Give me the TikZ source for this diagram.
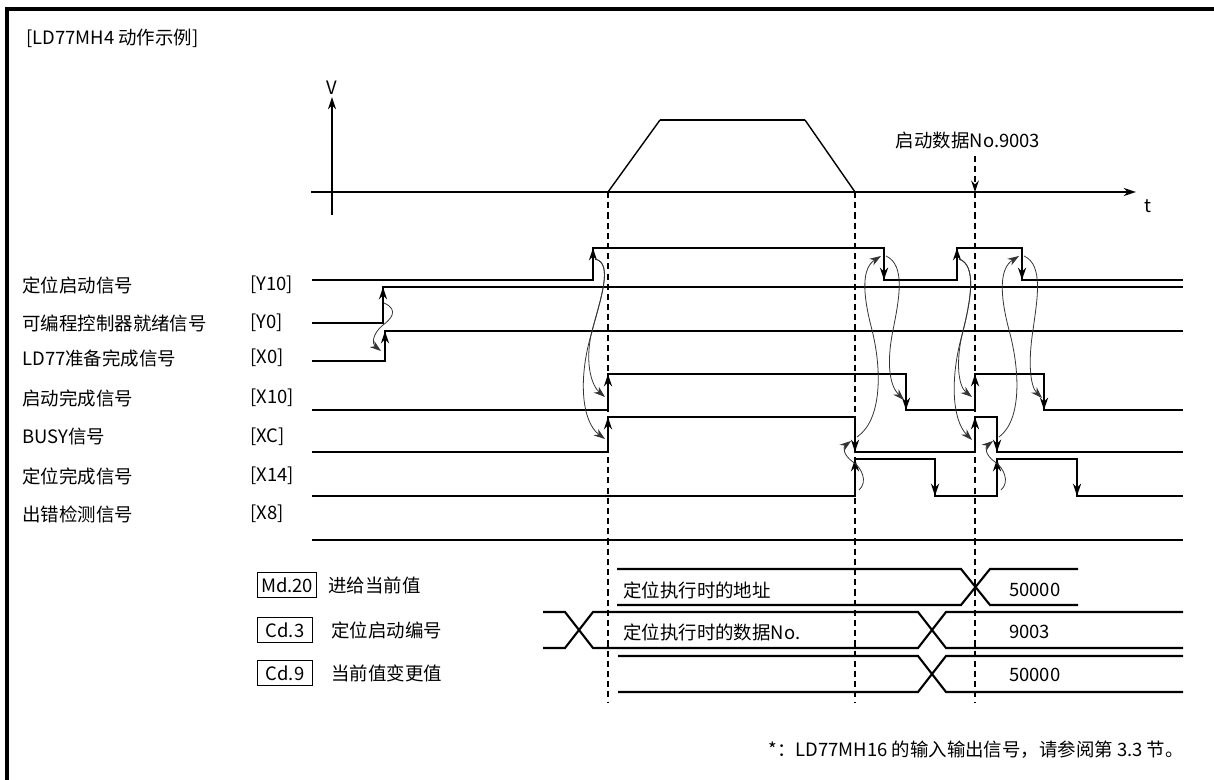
\documentclass[tikz,border=0pt]{standalone}
\usepackage{fontspec}
\setmainfont{Noto Sans CJK SC}
\usepackage{tikz}
\usetikzlibrary{arrows.meta, positioning}

\begin{document}
\begin{tikzpicture}[
    x=0.02cm, y=-0.02cm,
    >=Stealth,
    % Kiểu chữ và các nhãn
    lbl_font/.style={font=\fontsize{10.5}{12}\selectfont},
    sig_name/.style={lbl_font, anchor=west, inner sep=0pt},
    item_box/.style={draw, line width=0.6pt, lbl_font, inner sep=2pt, minimum width=1.1cm, minimum height=0.5cm, anchor=west},
    % Các kiểu đường
    axis_line/.style={line width=0.8pt},
    wave/.style={line width=1.4pt, line join=miter},
    flank/.style={line width=1.4pt, -{Stealth[length=7pt,width=4.6pt]}},
    cause/.style={line width=0.45pt, draw=black!80, -{Stealth[length=6.5pt,width=4.4pt]}},
    guide/.style={line width=0.6pt, dash pattern=on 3.5pt off 2.3pt},
    data_line/.style={line width=1.2pt}
]
    \useasboundingbox (0,0) rectangle (1214,780);

    % --- 1. KHUNG VÀ TIÊU ĐỀ ---
    \draw[line width=2.3pt] (7,780) -- (7,9) -- (1214,9);
    \node[lbl_font, anchor=west] (title) at (20,38) {[LD77MH4 动作示例]};

    % --- 2. TRỤC V - t VÀ HÌNH THANG TỐC ĐỘ ---
    \coordinate (v_bot) at (332,215);
    \coordinate (v_top) at (332,97);
    \coordinate (t_left) at (311,192);
    \coordinate (t_right) at (1136,192);
    \draw[axis_line, -{Stealth[length=7pt,width=4.6pt]}] (v_bot) -- (v_top);
    \draw[axis_line, -{Stealth[length=7pt,width=4.6pt]}] (t_left) -- (t_right);
    \node[lbl_font, anchor=south, inner sep=1pt] (v_lbl) at (v_top) {V};
    \node[lbl_font] (t_lbl) at (1148,206) {t};

    \draw[axis_line] (608,192) -- (660,120);
    \draw[line width=1.5pt] (660,120) -- (805,120);
    \draw[axis_line] (805,120) -- (855,192);

    % Đường gióng đứng
    \coordinate (g1) at (608,192);
    \coordinate (g2) at (855,192);
    \coordinate (g3) at (975,192);
    \foreach \g in {g1,g2,g3} {
        \draw[guide] (\g) -- (\g |- 0,703);
    }
    \node[lbl_font] (start_lbl) at (968,141) {启动数据No.9003};
    \draw[guide, -{Stealth[length=6.5pt,width=4.4pt]}] (start_lbl.south -| g3) -- (g3);

    % --- 3. TÊN TÍN HIỆU ---
    \foreach \key/\name/\code/\ly in {y10/定位启动信号/Y10/285, y0/可编程控制器就绪信号/Y0/323,
        x0/LD77准备完成信号/X0/358, x10/启动完成信号/X10/398, xc/BUSY信号/XC/437,
        x14/定位完成信号/X14/476, x8/出错检测信号/X8/514} {
        \node[sig_name] (name_\key) at (22,\ly) {\name};
        \node[sig_name] (code_\key) at (250,\ly) {[\code]};
    }

    % --- 4. DẠNG SÓNG ---
    \draw[wave] (312,280) -- (593,280) -- (593,248) -- (884,248) -- (884,280) -- (957,280)
        -- (957,248) -- (1022,248) -- (1022,280) -- (1183,280);
    \draw[wave] (312,323) -- (383,323) -- (383,287) -- (1183,287);
    \draw[wave] (312,361) -- (385,361) -- (385,331) -- (1183,331);
    \draw[wave] (312,410) -- (608,410) -- (608,374) -- (906,374) -- (906,410) -- (975,410)
        -- (975,374) -- (1044,374) -- (1044,410) -- (1183,410);
    \draw[wave] (312,452) -- (608,452) -- (608,417) -- (855,417) -- (855,452) -- (975,452)
        -- (975,417) -- (997,417) -- (997,452) -- (1183,452);
    \draw[wave] (312,496) -- (855,496) -- (855,459) -- (935,459) -- (935,496) -- (997,496)
        -- (997,459) -- (1077,459) -- (1077,496) -- (1183,496);
    \draw[wave] (312,540) -- (1183,540);

    % Mũi tên sườn lên / sườn xuống
    \foreach \ex/\ea/\eb in {593/280/248, 884/248/280, 957/280/248, 1022/248/280,
        383/323/287, 385/361/331,
        608/410/374, 906/374/410, 975/410/374, 1044/374/410,
        608/452/417, 855/417/452, 975/452/417, 997/417/452,
        855/496/459, 935/459/496, 997/496/459, 1077/459/496} {
        \draw[flank] (\ex,\ea) -- (\ex,\eb);
    }

    % --- 5. MŨI TÊN QUAN HỆ NHÂN QUẢ ---
    \coordinate (y0_on) at (384,303);
    \coordinate (x0_on) at (381,351);
    \draw[cause] (y0_on) .. controls (400,310) and (390,320) .. (383,325)
        .. controls (372,334) and (372,344) .. (x0_on);

    \coordinate (y10_on1) at (595,259);
    \coordinate (x10_on1) at (605,397);
    \coordinate (xc_on1) at (605,439);
    \draw[cause] (y10_on1) .. controls (614,263) and (600,300) .. (591,335)
        .. controls (585,365) and (592,386) .. (x10_on1);
    \draw[cause] (y10_on1) .. controls (614,263) and (600,300) .. (591,335)
        .. controls (578,380) and (582,422) .. (xc_on1);

    \coordinate (xc_off1) at (857,437);
    \coordinate (y10_off1) at (881,256);
    \coordinate (y10_off1s) at (886,256);
    \coordinate (x10_off1) at (904,400);
    \coordinate (x14_on1) at (859,490);
    \draw[cause] (xc_off1) .. controls (882,420) and (882,370) .. (872,330)
        .. controls (862,292) and (862,268) .. (y10_off1);
    \draw[cause] (y10_off1s) .. controls (906,265) and (899,300) .. (893,330)
        .. controls (886,365) and (890,386) .. (x10_off1);
    \draw[cause] (x14_on1) .. controls (868,482) and (862,468) .. (853,462)
        .. controls (843,455) and (843,447) .. (851,441);

    \coordinate (y10_on2) at (959,259);
    \coordinate (x10_on2) at (972,397);
    \coordinate (xc_on2) at (972,440);
    \draw[cause] (y10_on2) .. controls (977,265) and (971,300) .. (962,335)
        .. controls (956,362) and (958,386) .. (x10_on2);
    \draw[cause] (y10_on2) .. controls (977,265) and (971,300) .. (962,335)
        .. controls (950,378) and (952,420) .. (xc_on2);

    \coordinate (xc_off2) at (999,437);
    \coordinate (y10_off2) at (1019,256);
    \coordinate (y10_off2s) at (1024,256);
    \coordinate (x10_off2) at (1042,398);
    \coordinate (x14_on2) at (1001,490);
    \draw[cause] (xc_off2) .. controls (1022,420) and (1020,370) .. (1009,330)
        .. controls (999,292) and (1000,268) .. (y10_off2);
    \draw[cause] (y10_off2s) .. controls (1044,265) and (1037,300) .. (1033,330)
        .. controls (1028,362) and (1030,386) .. (x10_off2);
    \draw[cause] (x14_on2) .. controls (1010,482) and (1004,468) .. (995,462)
        .. controls (985,455) and (985,447) .. (993,441);

    % --- 6. DỮ LIỆU GIÁM SÁT / ĐIỀU KHIỂN ---
    \node[item_box] (md20) at (257,585) {Md.20};
    \node[lbl_font, anchor=west] (md20_txt) at (322,585) {进给当前值};
    \node[item_box] (cd3) at (257,630) {Cd.3};
    \node[lbl_font, anchor=west] (cd3_txt) at (325,630) {定位启动编号};
    \node[item_box] (cd9) at (257,673) {Cd.9};
    \node[lbl_font, anchor=west] (cd9_txt) at (325,673) {当前值变更值};

    % Md.20
    \draw[data_line] (617,569) -- (961,569) -- (990,605) -- (1078,605);
    \draw[data_line] (617,605) -- (961,605) -- (990,569) -- (1078,569);
    \node[lbl_font, anchor=west] (md20_v1) at (617,590) {定位执行时的地址};
    \node[lbl_font, anchor=west] (md20_v2) at (1003,590) {50000};

    % Cd.3
    \draw[data_line] (543,612) -- (565,612) -- (593,648) -- (918,648) -- (946,612) -- (1183,612);
    \draw[data_line] (543,648) -- (565,648) -- (593,612) -- (918,612) -- (946,648) -- (1183,648);
    \node[lbl_font, anchor=west] (cd3_v1) at (617,632) {定位执行时的数据No.};
    \node[lbl_font, anchor=west] (cd3_v2) at (1003,632) {9003};

    % Cd.9
    \draw[data_line] (618,656) -- (918,656) -- (946,692) -- (1183,692);
    \draw[data_line] (618,692) -- (918,692) -- (946,656) -- (1183,656);
    \node[lbl_font, anchor=west] (cd9_v2) at (1003,675) {50000};

    % --- 7. CHÚ THÍCH ---
    \node[lbl_font, anchor=east] (note) at (1190,750) {*：LD77MH16 的输入输出信号，请参阅第 3.3 节。};

\end{tikzpicture}
\end{document}
